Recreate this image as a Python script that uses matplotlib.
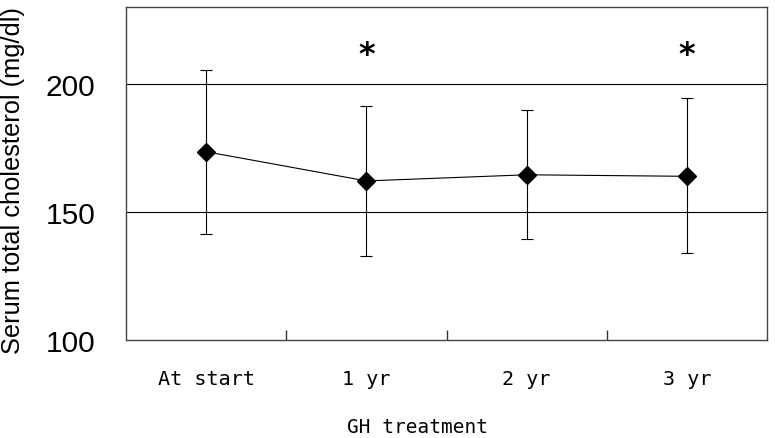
import numpy as np
import matplotlib
matplotlib.use('Agg')
import matplotlib.pyplot as plt

# 資料
categories = ['At start', '1 yr', '2 yr', '3 yr']
mean_vals = [173.5, 162.1, 164.5, 163.9]
upper_vals = [205.6, 191.5, 189.6, 194.5]
lower_vals = [141.5, 132.9, 139.6, 133.8]
significant = [False, True, False, True]
y_ticks = [100, 150, 200]

x = np.arange(len(categories))
mean_arr = np.array(mean_vals)
err = [mean_arr - np.array(lower_vals), np.array(upper_vals) - mean_arr]

fig = plt.figure(figsize=(7.75, 4.39), dpi=100)
ax = fig.add_axes([126 / 775, 1 - 341 / 439, (767 - 126) / 775, (341 - 8) / 439])

ax.errorbar(x, mean_vals, yerr=err, fmt='none', ecolor='black',
            elinewidth=0.8, capsize=4.3, capthick=0.8, zorder=3)
ax.plot(x, mean_vals, '-', color='black', lw=0.8, marker='D', ms=9,
        mfc='black', mec='black', zorder=4)

# 顯著性標記
for xi, s in zip(x, significant):
    if s:
        ax.text(xi, 208, '*', ha='center', va='baseline', fontsize=23,
                fontfamily='DejaVu Sans', fontweight='bold')

ax.set_xlim(-0.5, len(categories) - 0.5)
ax.set_ylim(100, 230)

ax.set_yticks(y_ticks)
ax.set_yticklabels([str(v) for v in y_ticks], fontsize=21.5, fontfamily='Liberation Sans')
ax.tick_params(axis='y', length=0, pad=22)
for v in y_ticks[1:]:
    ax.axhline(v, color='black', lw=0.8, zorder=1)

ax.set_xticks(x)
ax.set_xticklabels(categories, fontsize=14.5, fontfamily='DejaVu Sans Mono')
ax.tick_params(axis='x', which='major', length=0, pad=21)
ax.set_xticks(x[:-1] + 0.5, minor=True)
ax.tick_params(axis='x', which='minor', direction='in', length=7, width=1, color='#333333')

for sp in ax.spines.values():
    sp.set_color('#444444')
    sp.set_linewidth(1)

fig.text(13 / 775, 1 - 181 / 439, 'Serum total cholesterol (mg/dl)', rotation=90,
         ha='center', va='center', fontsize=18.3, fontfamily='Liberation Sans')
fig.text(418 / 775, 1 - 428 / 439, 'GH treatment', ha='center', va='center',
         fontsize=14, fontfamily='DejaVu Sans Mono')

fig.savefig('out.png', dpi=100)
